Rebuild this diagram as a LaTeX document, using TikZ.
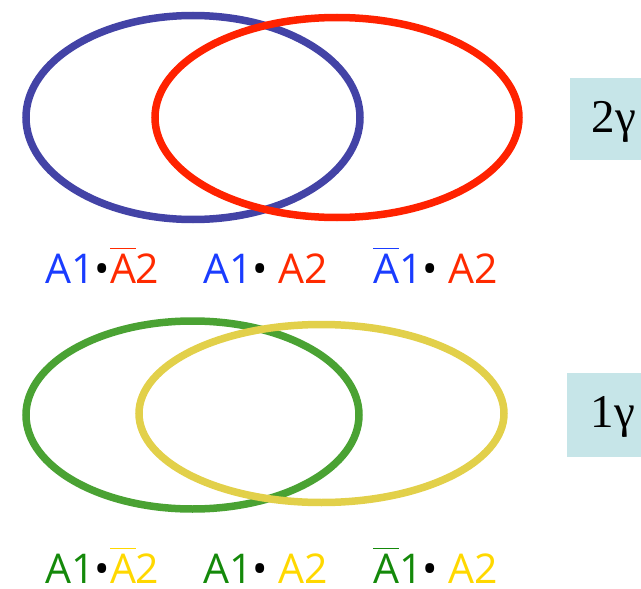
\documentclass[tikz,border=0pt]{standalone}
\usepackage{fontspec}
\setmainfont{Liberation Serif}
\newfontfamily\lblfont{Open Sans}
\definecolor{eblue}{HTML}{4343A6}
\definecolor{ered}{HTML}{FF2200}
\definecolor{egreen}{HTML}{4AA233}
\definecolor{eyellow}{HTML}{E2D04A}
\definecolor{tblue}{HTML}{1A3CFF}
\definecolor{tred}{HTML}{FF2A00}
\definecolor{tgreen}{HTML}{14890A}
\definecolor{tyellow}{HTML}{FFD800}
\definecolor{boxcol}{HTML}{C6E5E8}
\newcommand{\barA}{$\overline{\vphantom{\hbox{A}}\raisebox{0pt}[1.12\height]{\hbox{A}}}$}
\begin{document}
\begin{tikzpicture}[x=1pt,y=-1pt,
  ring/.style={line width=7.5pt},
  lbl/.style={anchor=base west,inner sep=0pt,text depth=0pt,font=\lblfont\fontsize{41}{41}\selectfont},
  gbox/.style={fill=boxcol,draw=none},
  gtxt/.style={anchor=base,inner sep=0pt,text depth=0pt,font=\fontsize{47}{47}\selectfont}]
\useasboundingbox (0,0) rectangle (641,589);
% top pair
\draw[ring,eblue] (193,117.5) ellipse [x radius=167, y radius=102];
\draw[ring,ered] (337,117.5) ellipse [x radius=182, y radius=100];
% bottom pair
\draw[ring,egreen] (192.5,415) ellipse [x radius=166.5, y radius=94];
\draw[ring,eyellow] (321.5,413.5) ellipse [x radius=182.5, y radius=89];
% labels top
\node[lbl] (l1) at (45,283) {\textcolor{tblue}{A1}\textcolor{black}{•}\textcolor{tred}{\barA 2}};
\node[lbl] (l2) at (203,283) {\textcolor{tblue}{A1}\textcolor{black}{• }\textcolor{tred}{A2}};
\node[lbl] (l3) at (373,283) {\textcolor{tblue}{\barA 1}\textcolor{black}{• }\textcolor{tred}{A2}};
% labels bottom
\node[lbl] (l4) at (45,583) {\textcolor{tgreen}{A1}\textcolor{black}{•}\textcolor{tyellow}{\barA 2}};
\node[lbl] (l5) at (203,583) {\textcolor{tgreen}{A1}\textcolor{black}{• }\textcolor{tyellow}{A2}};
\node[lbl] (l6) at (373,583) {\textcolor{tgreen}{\barA 1}\textcolor{black}{• }\textcolor{tyellow}{A2}};
% gamma boxes
\fill[gbox] (570,78) rectangle (641,160);
\node[gtxt] (g2) at (614,132) {2γ};
\fill[gbox] (567,373) rectangle (641,457);
\node[gtxt] (g1) at (613,427) {1γ};
\end{tikzpicture}
\end{document}
